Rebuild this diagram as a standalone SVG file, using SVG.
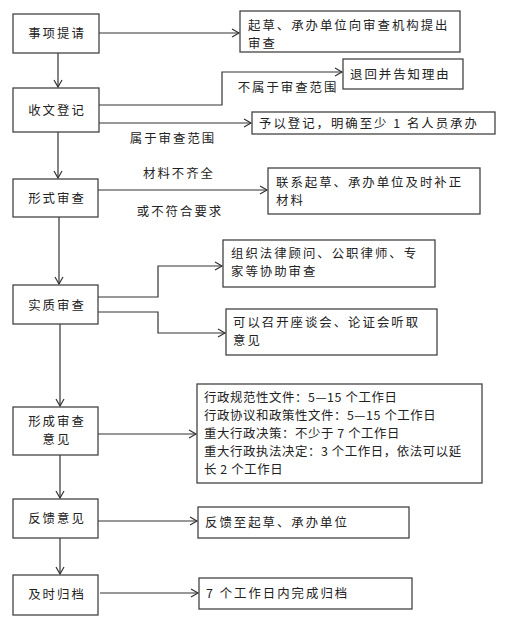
<svg xmlns="http://www.w3.org/2000/svg" width="505" height="626" viewBox="0 0 505 626">
<defs>
<marker id="ah" markerWidth="10" markerHeight="10" refX="8" refY="5" orient="auto" markerUnits="userSpaceOnUse">
<path d="M1,1 L8,5 L1,9" fill="none" stroke="#333" stroke-width="1.2"/>
</marker>
<style>
rect{fill:#fff;stroke:#444;stroke-width:1.3}
text{font-family:"Noto Sans CJK SC","Noto Sans CJK JP",sans-serif;font-size:12.4px;letter-spacing:2px;fill:#222}
.c{text-anchor:middle}
.g{letter-spacing:0.6px}
.ln{fill:none;stroke:#333;stroke-width:1.2;marker-end:url(#ah)}
</style>
</defs>
<rect x="0" y="0" width="505" height="626" style="fill:#fff;stroke:none"/>
<g id="connectors">
<path class="ln" d="M99,33 H239"/>
<path class="ln" d="M58,53 V87"/>
<path class="ln" d="M99,105 H222 V72 H342"/>
<path class="ln" d="M99,123 H251"/>
<path class="ln" d="M58,132 V178"/>
<path class="ln" d="M98,190 H267"/>
<path class="ln" d="M59,217 V284"/>
<path class="ln" d="M98,297 H158 V266 H222"/>
<path class="ln" d="M98,312 H158 V333 H225"/>
<path class="ln" d="M60,324 V406"/>
<path class="ln" d="M98,434 H196"/>
<path class="ln" d="M60,455 V498"/>
<path class="ln" d="M98,521 H197"/>
<path class="ln" d="M60,538 V574"/>
<path class="ln" d="M100,593 H198"/>
<text x="288" y="92" class="c">不属于审查范围</text>
<text x="173" y="143" class="c">属于审查范围</text>
<text x="179" y="178" class="c">材料不齐全</text>
<text x="180" y="216" class="c">或不符合要求</text>
</g>
<g id="n1"><rect x="13" y="14" width="86" height="39"/><text x="57" y="38" class="c">事项提请</text></g>
<g id="n2"><rect x="13" y="88" width="86" height="44"/><text x="57" y="115" class="c">收文登记</text></g>
<g id="n3"><rect x="13" y="179" width="85" height="38"/><text x="57" y="203" class="c">形式审查</text></g>
<g id="n4"><rect x="13" y="285" width="85" height="39"/><text x="57" y="310" class="c">实质审查</text></g>
<g id="n5"><rect x="13" y="407" width="85" height="48"/><text x="57" y="426" class="c">形成审查</text><text x="57" y="444" class="c">意见</text></g>
<g id="n6"><rect x="13" y="499" width="85" height="39"/><text x="57" y="523" class="c">反馈意见</text></g>
<g id="n7"><rect x="13" y="575" width="85" height="40"/><text x="57" y="599" class="c">及时归档</text></g>
<g id="a"><rect x="240" y="11" width="220" height="41"/><text x="248" y="30">起草、承办单位向审查机构提出</text><text x="248" y="48">审查</text></g>
<g id="b"><rect x="343" y="59" width="120" height="30"/><text x="350" y="79">退回并告知理由</text></g>
<g id="c"><rect x="252" y="112" width="243" height="22"/><text x="259" y="128">予以登记，明确至少 1 名人员承办</text></g>
<g id="d"><rect x="268" y="168" width="212" height="46"/><text x="276" y="187">联系起草、承办单位及时补正</text><text x="276" y="205">材料</text></g>
<g id="e"><rect x="223" y="240" width="212" height="47"/><text x="231" y="258">组织法律顾问、公职律师、专</text><text x="231" y="276">家等协助审查</text></g>
<g id="f"><rect x="226" y="309" width="211" height="46"/><text x="233" y="327">可以召开座谈会、论证会听取</text><text x="233" y="345">意见</text></g>
<g id="g"><rect x="197" y="384" width="285" height="99"/>
<text x="204" y="402" class="g">行政规范性文件：5—15 个工作日</text>
<text x="204" y="420" class="g">行政协议和政策性文件：5—15 个工作日</text>
<text x="204" y="438" class="g">重大行政决策：不少于 7 个工作日</text>
<text x="204" y="456" class="g">重大行政执法决定：3 个工作日，依法可以延</text>
<text x="204" y="474" class="g">长 2 个工作日</text></g>
<g id="h"><rect x="198" y="507" width="211" height="31"/><text x="205" y="527">反馈至起草、承办单位</text></g>
<g id="i"><rect x="199" y="578" width="213" height="31"/><text x="206" y="598">7 个工作日内完成归档</text></g>
</svg>
